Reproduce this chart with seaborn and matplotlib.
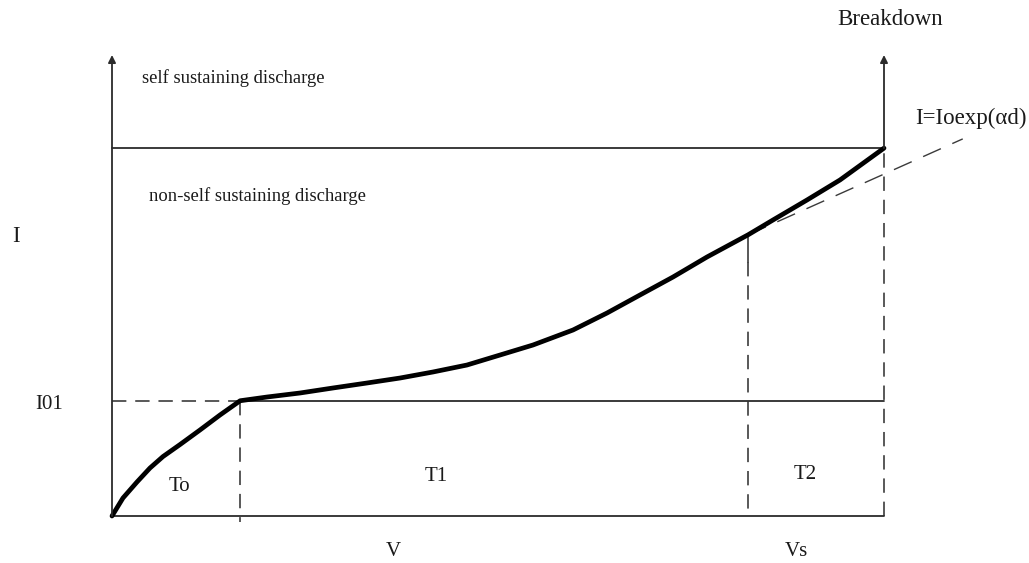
import matplotlib
matplotlib.use("Agg")
import matplotlib.pyplot as plt
import seaborn as sns
import pandas as pd

# ---- data (V in % of Vs-span, I in % of axis height) ----
curve_v = [0, 1.42, 3.24, 4.92, 6.61, 8.81, 11.40, 13.99, 16.6, 20.08, 24.35, 28.63,
           33.03, 37.31, 41.58, 45.98, 50.26, 54.53, 59.72, 64.12, 68.39, 72.67,
           77.07, 82.4, 85.62, 90.03, 94.30, 100]
curve_i = [0, 3.90, 7.38, 10.41, 12.90, 15.50, 18.66, 21.91, 25.0, 25.81, 26.68, 27.77,
           28.85, 29.93, 31.24, 32.75, 34.92, 37.09, 40.35, 44.03, 47.94, 51.84,
           56.18, 61.0, 64.21, 68.55, 72.89, 79.8]
tangent_v = [82.4, 110.2]
tangent_i = [61.0, 81.8]
i01_level = 25.0
breakdown_level = 79.8
v_t0 = 16.6
v_t1 = 82.4
v_s = 100.0

sns.set_theme(style="white")
plt.rcParams["font.family"] = ["Liberation Serif", "DejaVu Serif"]

fig = plt.figure(figsize=(10.29, 5.63), dpi=100)
ax = fig.add_axes([112 / 1029, 47 / 563, 772 / 1029, 461 / 563])
ax.set_xlim(0, 100)
ax.set_ylim(0, 100)
ax.axis("off")

lc = "#2b2b2b"
dash = (0, (9.4, 5.8))

# axes with arrows
ax.annotate("", xy=(0, 100), xytext=(0, 0),
            arrowprops=dict(arrowstyle="-|>", lw=1.3, color=lc, mutation_scale=11,
                            shrinkA=0, shrinkB=0), annotation_clip=False)
ax.annotate("", xy=(v_s, 100), xytext=(v_s, breakdown_level),
            arrowprops=dict(arrowstyle="-|>", lw=1.3, color=lc, mutation_scale=11,
                            shrinkA=0, shrinkB=0), annotation_clip=False)
ax.plot([0, v_s], [0, 0], color=lc, lw=1.3, clip_on=False)
ax.plot([v_s, v_s], [0, breakdown_level], color=lc, lw=1.1, ls=dash, clip_on=False)

# breakdown line
ax.plot([0, v_s], [breakdown_level, breakdown_level], color=lc, lw=1.3, clip_on=False)
# I01 lines
ax.plot([0, v_t0], [i01_level, i01_level], color=lc, lw=1.1, ls=dash, clip_on=False)
ax.plot([v_t0, v_s], [i01_level, i01_level], color=lc, lw=1.3, clip_on=False)
# vertical separators
ax.plot([v_t0, v_t0], [i01_level, -1.3], color=lc, lw=1.1, ls=dash, clip_on=False)
ax.plot([v_t1, v_t1], [61.0, 55.0], color=lc, lw=1.1, clip_on=False)
ax.plot([v_t1, v_t1], [55.0, 0], color=lc, lw=1.1, ls=dash, clip_on=False)

# tangent (Townsend exponential)
sns.lineplot(x=tangent_v, y=tangent_i, ax=ax, color="#3a3a3a", lw=1.0,
             linestyle=(0, (14, 9)), sort=False, clip_on=False)

# main curve
df = pd.DataFrame({"V": curve_v, "I": curve_i})
sns.lineplot(data=df, x="V", y="I", ax=ax, color="black", lw=3.4, sort=False,
             clip_on=False, solid_capstyle="round", solid_joinstyle="round")
ax.set_xlabel("")
ax.set_ylabel("")

tc = "#1a1a1a"
big = 16.5
mid = 13.4
ax.text(100.8, 107.6, "Breakdown", fontsize=big, ha="center", va="center", color=tc, clip_on=False)
ax.text(104.0, 86.3, "I=Ioexp(αd)", fontsize=big, ha="left", va="center", color=tc, clip_on=False)
ax.text(3.9, 95.0, "self sustaining discharge", fontsize=mid, ha="left", va="center", color=tc)
ax.text(4.8, 69.4, "non-self sustaining discharge", fontsize=mid, ha="left", va="center", color=tc)
ax.text(-12.4, 60.7, "I", fontsize=big, ha="center", va="center", color=tc, clip_on=False)
ax.text(-8.2, 24.1, "I01", fontsize=15, ha="center", va="center", color=tc, clip_on=False)
ax.text(8.8, 6.3, "To", fontsize=15, ha="center", va="center", color=tc)
ax.text(42.0, 8.5, "T1", fontsize=15, ha="center", va="center", color=tc)
ax.text(89.8, 8.9, "T2", fontsize=15, ha="center", va="center", color=tc)
ax.text(36.5, -7.6, "V", fontsize=15, ha="center", va="center", color=tc, clip_on=False)
ax.text(88.7, -7.8, "Vs", fontsize=15, ha="center", va="center", color=tc, clip_on=False)

fig.savefig("out.png", dpi=100)
